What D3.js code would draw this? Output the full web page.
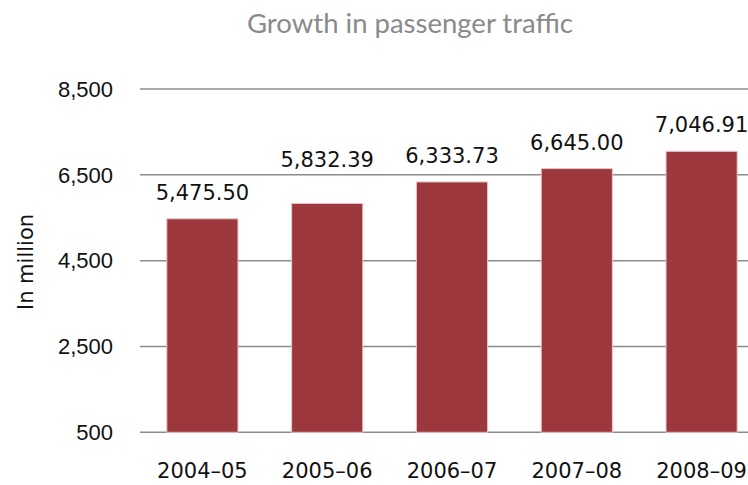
<!DOCTYPE html>
<html>
<head>
<meta charset="utf-8">
<script src="https://cdn.jsdelivr.net/npm/d3@7/dist/d3.min.js"></script>
<style>
  html, body { margin: 0; padding: 0; background: #fff; overflow: hidden; }
</style>
</head>
<body>
<div id="chart"></div>
<script>
// Growth in passenger traffic - simple bar chart

const years = ["2004\u201305", "2005\u201306", "2006\u201307", "2007\u201308", "2008\u201309"];
const traffic = [5475.50, 5832.39, 6333.73, 6645.00, 7046.91];
const yTicks = [500, 2500, 4500, 6500, 8500];

const WIDTH = 748;
const HEIGHT = 485;
const BAR_COLOR = "#9C383D";

const svg = d3.select("#chart")
  .append("svg")
  .attr("width", WIDTH)
  .attr("height", HEIGHT);

const x = d3.scaleBand()
  .domain(years)
  .range([140, 764])
  .paddingInner(0.43)
  .paddingOuter(0.215);

const y = d3.scaleLinear()
  .domain([500, 8500])
  .range([432.3, 89]);

// gridlines
svg.append("g")
  .selectAll("line")
  .data(yTicks)
  .enter()
  .append("line")
  .attr("x1", 140)
  .attr("x2", WIDTH)
  .attr("y1", d => y(d))
  .attr("y2", d => y(d))
  .attr("stroke", "#8c8c8c")
  .attr("stroke-width", 1.5);

// y tick labels
svg.append("g")
  .selectAll("text")
  .data(yTicks)
  .enter()
  .append("text")
  .attr("x", 113)
  .attr("y", d => y(d))
  .attr("dy", "0.35em")
  .attr("text-anchor", "end")
  .attr("font-family", "'Liberation Sans', Arial, sans-serif")
  .attr("font-size", 22)
  .attr("fill", "#111")
  .text(d => d3.format(",")(d));

// bars
svg.append("g")
  .selectAll("rect")
  .data(traffic)
  .enter()
  .append("rect")
  .attr("x", (d, i) => x(years[i]))
  .attr("y", d => y(d))
  .attr("width", x.bandwidth())
  .attr("height", d => y(500) - y(d))
  .attr("fill", BAR_COLOR)
  .attr("stroke", "#e8c4c6")
  .attr("stroke-width", 1);

// value label baseline: sits above the bar, bumped over a gridline it would cross
function labelBaseline(v) {
  let base = y(v) - 19;
  yTicks.forEach(t => {
    const gy = y(t);
    if (gy > base - 18 && gy < base + 4) base = gy - 8;
  });
  return base;
}

// value labels
svg.append("g")
  .selectAll("text")
  .data(traffic)
  .enter()
  .append("text")
  .attr("x", (d, i) => x(years[i]) + x.bandwidth() / 2)
  .attr("y", d => labelBaseline(d))
  .attr("text-anchor", "middle")
  .attr("font-family", "'DejaVu Sans', Verdana, sans-serif")
  .attr("font-size", 21)
  .attr("fill", "#111")
  .text(d => d3.format(",.2f")(d));

// category labels
svg.append("g")
  .selectAll("text")
  .data(years)
  .enter()
  .append("text")
  .attr("x", d => x(d) + x.bandwidth() / 2)
  .attr("y", 478)
  .attr("text-anchor", "middle")
  .attr("font-family", "'DejaVu Sans', Verdana, sans-serif")
  .attr("font-size", 21)
  .attr("fill", "#111")
  .text(d => d);

// axis title
svg.append("text")
  .attr("transform", "translate(33,262) rotate(-90)")
  .attr("text-anchor", "middle")
  .attr("font-family", "'DejaVu Sans', Verdana, sans-serif")
  .attr("font-size", 21)
  .attr("fill", "#111")
  .text("In million");

// chart title
svg.append("text")
  .attr("x", 410)
  .attr("y", 33)
  .attr("text-anchor", "middle")
  .attr("font-family", "Lato, sans-serif")
  .attr("font-size", 27.5)
  .attr("fill", "#8a8a8a")
  .text("Growth in passenger traffic");
</script>
</body>
</html>
